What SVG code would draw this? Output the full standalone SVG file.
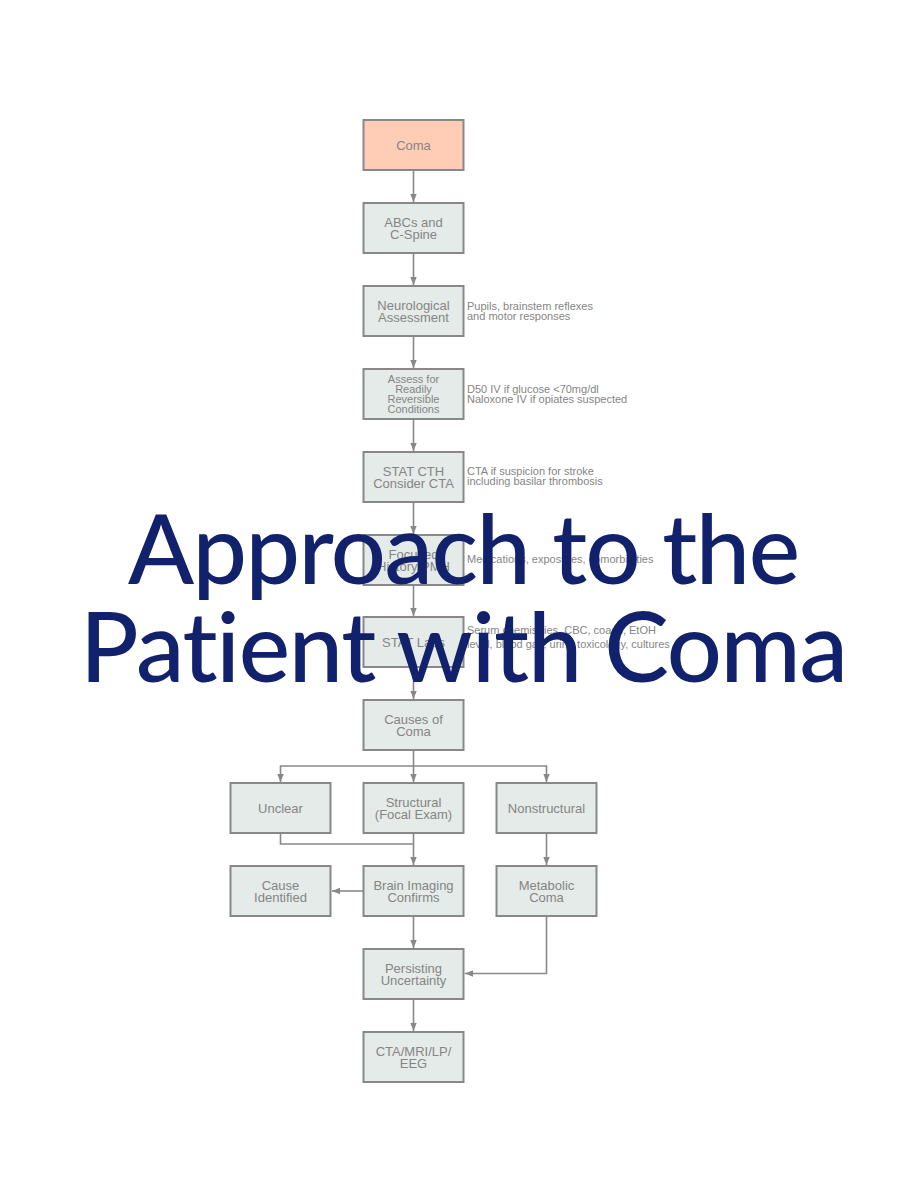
<svg xmlns="http://www.w3.org/2000/svg" width="900" height="1200" viewBox="0 0 900 1200">
<defs>
<style>
.box{fill:#e4ebe8;stroke:#888;stroke-width:2}
.start{fill:#ffcdb6;stroke:#888;stroke-width:2}
.t{font-family:"Liberation Sans",Arial,sans-serif;font-size:13px;fill:#858585;text-anchor:middle}
.ts{font-family:"Liberation Sans",Arial,sans-serif;font-size:11px;fill:#858585;text-anchor:middle}
.n{font-family:"Liberation Sans",Arial,sans-serif;font-size:11px;fill:#858585}
.c{fill:none;stroke:#888;stroke-width:1.6}
.title{font-family:Lato,"Open Sans",sans-serif;font-size:97px;font-weight:500;fill:#12216b;text-anchor:middle;font-variant-ligatures:none;font-feature-settings:"liga" 0}
</style>
<marker id="ah" viewBox="0 0 10 10" refX="10" refY="5" markerWidth="8" markerHeight="8" markerUnits="userSpaceOnUse" orient="auto">
<path d="M0,1 L10,5 L0,9 Z" fill="#888"/>
</marker>
</defs>
<rect width="900" height="1200" fill="#fff"/>
<g id="connectors">
<path class="c" d="M413.5,170 V202" marker-end="url(#ah)"/>
<path class="c" d="M413.5,253 V285" marker-end="url(#ah)"/>
<path class="c" d="M413.5,336 V368" marker-end="url(#ah)"/>
<path class="c" d="M413.5,419 V451" marker-end="url(#ah)"/>
<path class="c" d="M413.5,502 V534" marker-end="url(#ah)"/>
<path class="c" d="M413.5,585 V616" marker-end="url(#ah)"/>
<path class="c" d="M413.5,667 V699" marker-end="url(#ah)"/>
<path class="c" d="M413.5,750 V782" marker-end="url(#ah)"/>
<path class="c" d="M413.5,766 H280.5 V782" marker-end="url(#ah)"/>
<path class="c" d="M413.5,766 H546.5 V782" marker-end="url(#ah)"/>
<path class="c" d="M413.5,833 V865" marker-end="url(#ah)"/>
<path class="c" d="M280.5,833 V844 H413.5"/>
<path class="c" d="M546.5,833 V865" marker-end="url(#ah)"/>
<path class="c" d="M363,891 H332" marker-end="url(#ah)"/>
<path class="c" d="M413.5,916 V948" marker-end="url(#ah)"/>
<path class="c" d="M546.5,916 V973.5 H465" marker-end="url(#ah)"/>
<path class="c" d="M413.5,999 V1031" marker-end="url(#ah)"/>
</g>
<g id="coma"><rect class="start" x="363.5" y="120" width="100" height="50"/><text class="t" x="413.5" y="149.5">Coma</text></g>
<g id="abcs"><rect class="box" x="363.5" y="203" width="100" height="50"/><text class="t" x="413.5" y="227">ABCs and</text><text class="t" x="413.5" y="239">C-Spine</text></g>
<g id="neuro"><rect class="box" x="363.5" y="286" width="100" height="50"/><text class="t" x="413.5" y="310">Neurological</text><text class="t" x="413.5" y="322">Assessment</text></g>
<g id="assess"><rect class="box" x="363.5" y="369" width="100" height="50"/><text class="ts" x="413.5" y="383">Assess for</text><text class="ts" x="413.5" y="393">Readily</text><text class="ts" x="413.5" y="403">Reversible</text><text class="ts" x="413.5" y="413">Conditions</text></g>
<g id="cth"><rect class="box" x="363.5" y="452" width="100" height="50"/><text class="t" x="413.5" y="476">STAT CTH</text><text class="t" x="413.5" y="488">Consider CTA</text></g>
<g id="history"><rect class="box" x="363.5" y="535" width="100" height="50"/><text class="t" x="413.5" y="559">Focused</text><text class="t" x="413.5" y="571">History/PMH</text></g>
<g id="labs"><rect class="box" x="363.5" y="617" width="100" height="50"/><text class="t" x="413.5" y="647">STAT Labs</text></g>
<g id="causes"><rect class="box" x="363.5" y="700" width="100" height="50"/><text class="t" x="413.5" y="724">Causes of</text><text class="t" x="413.5" y="736">Coma</text></g>
<g id="unclear"><rect class="box" x="230.5" y="783" width="100" height="50"/><text class="t" x="280.5" y="812.5">Unclear</text></g>
<g id="structural"><rect class="box" x="363.5" y="783" width="100" height="50"/><text class="t" x="413.5" y="807">Structural</text><text class="t" x="413.5" y="819">(Focal Exam)</text></g>
<g id="nonstructural"><rect class="box" x="496.5" y="783" width="100" height="50"/><text class="t" x="546.5" y="812.5">Nonstructural</text></g>
<g id="cause-identified"><rect class="box" x="230.5" y="866" width="100" height="50"/><text class="t" x="280.5" y="890">Cause</text><text class="t" x="280.5" y="902">Identified</text></g>
<g id="brain-imaging"><rect class="box" x="363.5" y="866" width="100" height="50"/><text class="t" x="413.5" y="890">Brain Imaging</text><text class="t" x="413.5" y="902">Confirms</text></g>
<g id="metabolic"><rect class="box" x="496.5" y="866" width="100" height="50"/><text class="t" x="546.5" y="890">Metabolic</text><text class="t" x="546.5" y="902">Coma</text></g>
<g id="persisting"><rect class="box" x="363.5" y="949" width="100" height="50"/><text class="t" x="413.5" y="973">Persisting</text><text class="t" x="413.5" y="985">Uncertainty</text></g>
<g id="cta-mri"><rect class="box" x="363.5" y="1032" width="100" height="50"/><text class="t" x="413.5" y="1056">CTA/MRI/LP/</text><text class="t" x="413.5" y="1068">EEG</text></g>
<g id="notes">
<text class="n" x="467" y="310">Pupils, brainstem reflexes</text>
<text class="n" x="467" y="320">and motor responses</text>
<text class="n" x="467" y="393">D50 IV if glucose &lt;70mg/dl</text>
<text class="n" x="467" y="403">Naloxone IV if opiates suspected</text>
<text class="n" x="467" y="475">CTA if suspicion for stroke</text>
<text class="n" x="467" y="485">including basilar thrombosis</text>
<text class="n" x="467" y="563">Medications, exposures, comorbidities</text>
<text class="n" x="467" y="634">Serum chemistries, CBC, coags, EtOH</text>
<text class="n" x="467" y="648">level, blood gas, urine toxicology,  cultures</text>
</g>
<g id="title">
<text class="title" x="464" y="584" textLength="672" lengthAdjust="spacing">Approach to the</text>
<text class="title" x="464" y="682" textLength="768" lengthAdjust="spacing">Patient with Coma</text>
</g>
</svg>
